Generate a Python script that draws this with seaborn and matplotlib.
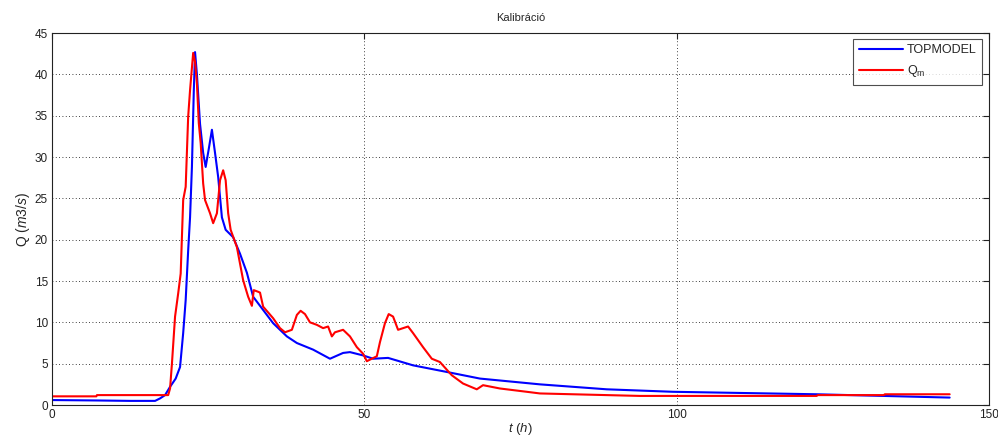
import numpy as np
import pandas as pd
import matplotlib
matplotlib.use("Agg")
import matplotlib.pyplot as plt
import seaborn as sns

# Simulated discharge (TOPMODEL)
t_model = [0, 7.2, 12.5, 16.5, 17.3, 18.1, 18.9, 19.8, 20.5, 21.0, 21.4, 21.8,
           22.1, 22.4, 22.7, 22.9, 23.2, 23.7, 24.2, 24.6, 25.1, 25.6, 26.1,
           26.6, 27.2, 27.8, 29.0, 30.1, 31.2, 32.2, 33.8, 35.4, 37.6, 39.2,
           41.8, 44.5, 46.6, 47.7, 49.8, 51.4, 53.8, 57.8, 63.2, 68.5, 78.1,
           88.8, 99.4, 122.4, 143.7]
q_model = [0.6, 0.55, 0.5, 0.5, 0.8, 1.2, 2.2, 3.2, 4.6, 8.7, 12.7, 18.7,
           22.7, 28.8, 38.0, 42.7, 40.0, 34.0, 30.5, 28.8, 31.0, 33.3, 30.5,
           27.6, 22.7, 21.2, 20.3, 18.3, 16.0, 13.1, 11.5, 9.9, 8.3, 7.5,
           6.7, 5.6, 6.3, 6.4, 6.0, 5.6, 5.7, 4.8, 4.0, 3.2, 2.5,
           1.9, 1.6, 1.3, 0.9]

# Measured discharge (Qm)
t_meas = [0, 7.1, 7.2, 18.6, 18.9, 19.2, 19.7, 20.2, 20.6, 21.0, 21.4, 21.8,
          22.1, 22.6, 22.9, 23.2, 23.5, 23.8, 24.2, 24.5, 25.3, 25.8, 26.4,
          26.9, 27.4, 27.8, 28.2, 28.6, 29.6, 30.6, 31.4, 32.0, 32.3, 33.0,
          33.3, 33.8, 35.4, 36.5, 37.3, 38.4, 39.2, 39.8, 40.5, 41.3, 42.4,
          43.4, 44.2, 44.8, 45.3, 46.6, 47.7, 48.8, 49.8, 50.4, 51.2, 52.0,
          52.5, 53.3, 53.9, 54.6, 55.4, 57.0, 57.8, 59.4, 60.8, 62.1, 64.0,
          65.8, 68.0, 69.0, 71.7, 76.0, 78.1, 83.4, 94.1, 122.4, 122.6,
          133.2, 133.3, 143.7]
q_meas = [1.05, 1.05, 1.2, 1.2, 2.0, 5.0, 10.7, 13.5, 15.9, 24.8, 26.4, 34.9,
          38.1, 42.6, 41.5, 38.9, 34.1, 31.7, 26.8, 24.8, 23.2, 22.0, 23.2,
          27.2, 28.4, 27.2, 23.2, 21.2, 19.1, 15.1, 13.1, 12.0, 13.9, 13.7,
          13.6, 11.9, 10.5, 9.3, 8.8, 9.1, 10.9, 11.4, 11.0, 10.0, 9.7,
          9.3, 9.5, 8.3, 8.8, 9.1, 8.3, 7.0, 6.2, 5.3, 5.6, 5.9,
          7.6, 9.9, 11.0, 10.7, 9.1, 9.5, 8.7, 7.0, 5.6, 5.2, 3.6,
          2.6, 1.9, 2.4, 2.0, 1.6, 1.4, 1.3, 1.1, 1.1, 1.2,
          1.2, 1.3, 1.3]

series_names = ["TOPMODEL", "Q$_\\mathrm{m}$"]
series_colors = ["#0000ff", "#ff0000"]

df = pd.concat([
    pd.DataFrame({"t": t_model, "Q": q_model, "series": series_names[0]}),
    pd.DataFrame({"t": t_meas, "Q": q_meas, "series": series_names[1]}),
], ignore_index=True)

sns.set_theme(style="white")
plt.rcParams["font.family"] = ["Liberation Sans", "DejaVu Sans"]
plt.rcParams["mathtext.fontset"] = "custom"
plt.rcParams["mathtext.rm"] = "Liberation Sans"
plt.rcParams["mathtext.it"] = "Liberation Sans:italic"

fig = plt.figure(figsize=(9.98, 4.41), dpi=100)
ax = fig.add_axes([0.0521, 0.0816, 0.9389, 0.8434])

sns.lineplot(data=df, x="t", y="Q", hue="series", palette=series_colors,
             hue_order=series_names, linewidth=1.5, ax=ax, sort=False,
             estimator=None)

ax.set_xlim(0, 150)
ax.set_ylim(0, 45)
ax.set_xticks([0, 50, 100, 150])
ax.set_yticks(np.arange(0, 46, 5))
ax.grid(True, color="black", linestyle=(0, (1, 3)), linewidth=0.6)
ax.tick_params(direction="in", length=4, width=0.8, top=True, right=True,
               labelsize=8.5, colors="#222222", pad=3)
for s in ax.spines.values():
    s.set_color("#222222")
    s.set_linewidth(0.8)

ax.set_title("Kalibráció", fontsize=8, pad=9)
ax.set_xlabel("$\\mathit{t\\ (h)}$", fontsize=9.5, labelpad=0)
ax.set_ylabel("Q $\\mathit{(m3/s)}$", fontsize=10, labelpad=2)

leg = ax.legend(loc="upper right", bbox_to_anchor=(0.9925, 0.985),
                fontsize=9, frameon=True, fancybox=False, handlelength=3.5,
                handletextpad=0.3, borderpad=0.45, labelspacing=0.55,
                borderaxespad=0)
leg.get_frame().set_edgecolor("#222222")
leg.get_frame().set_linewidth(0.8)
leg.set_title(None)

fig.savefig("out.png", dpi=100, facecolor="white")
